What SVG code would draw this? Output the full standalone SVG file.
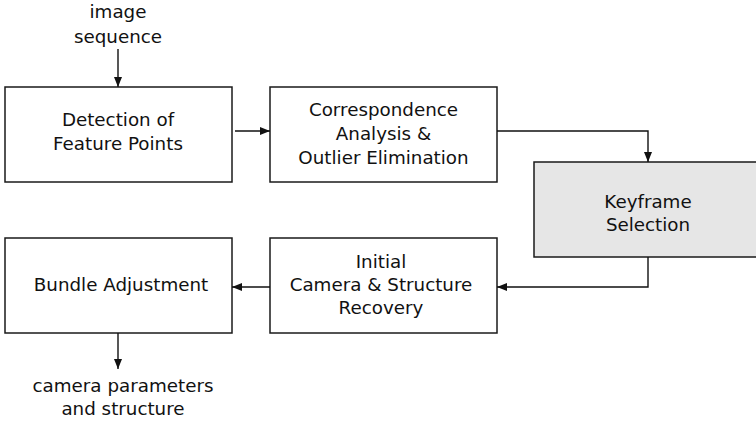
<svg xmlns="http://www.w3.org/2000/svg" width="756" height="422" viewBox="0 0 756 422">
  <style>
    .box { fill: #ffffff; stroke: #1a1a1a; stroke-width: 1.5; }
    .key { fill: #e6e6e6; }
    .lbl { font-family: "DejaVu Sans", "Liberation Sans", sans-serif; font-size: 18.3px; fill: #111111; text-anchor: middle; }
    .edge { fill: none; stroke: #111111; stroke-width: 1.4; marker-end: url(#arr); }
  </style>
  <defs>
    <marker id="arr" viewBox="0 0 10 8" refX="10" refY="4" markerWidth="10" markerHeight="8" markerUnits="userSpaceOnUse" orient="auto">
      <path d="M0,0 L10,4 L0,8 Z" fill="#111111"/>
    </marker>
  </defs>
  <rect width="756" height="422" fill="#ffffff"/>

  <g id="input-label">
    <text class="lbl" x="118" y="18">image</text>
    <text class="lbl" x="118" y="43">sequence</text>
  </g>

  <g id="detection">
    <rect class="box" x="5" y="87" width="227" height="95"/>
    <text class="lbl" x="118" y="126">Detection of</text>
    <text class="lbl" x="118" y="150">Feature Points</text>
  </g>

  <g id="correspondence">
    <rect class="box" x="270" y="87" width="227" height="95"/>
    <text class="lbl" x="383.5" y="116">Correspondence</text>
    <text class="lbl" x="383.5" y="140">Analysis &amp;</text>
    <text class="lbl" x="383.5" y="164">Outlier Elimination</text>
  </g>

  <g id="keyframe">
    <rect class="box key" x="534" y="162" width="228" height="95"/>
    <text class="lbl" x="648" y="208">Keyframe</text>
    <text class="lbl" x="648" y="231">Selection</text>
  </g>

  <g id="initial">
    <rect class="box" x="270" y="238" width="227" height="95"/>
    <text class="lbl" x="381" y="268">Initial</text>
    <text class="lbl" x="381" y="291">Camera &amp; Structure</text>
    <text class="lbl" x="381" y="314">Recovery</text>
  </g>

  <g id="bundle">
    <rect class="box" x="5" y="238" width="227" height="95"/>
    <text class="lbl" x="121" y="291">Bundle Adjustment</text>
  </g>

  <g id="output-label">
    <text class="lbl" x="123" y="392">camera parameters</text>
    <text class="lbl" x="123" y="415">and structure</text>
  </g>

  <g id="connectors">
    <path class="edge" d="M118,49 V87"/>
    <path class="edge" d="M235,131 H270"/>
    <path class="edge" d="M497,131 H648 V162"/>
    <path class="edge" d="M648,257 V287 H497"/>
    <path class="edge" d="M270,287 H232"/>
    <path class="edge" d="M118,333 V369"/>
  </g>
</svg>
